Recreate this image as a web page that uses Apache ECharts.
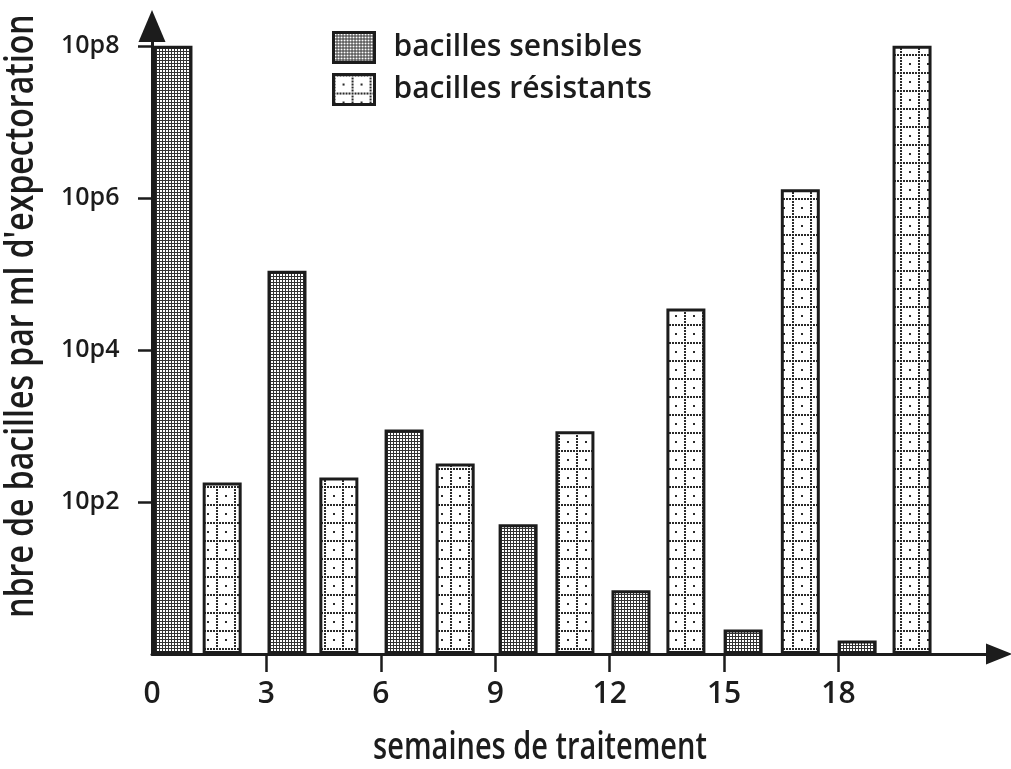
<!DOCTYPE html>
<html>
<head>
<meta charset="utf-8">
<script src="https://cdn.jsdelivr.net/npm/echarts@6/dist/echarts.min.js"></script>
<style>
  html, body { margin: 0; padding: 0; background: #fff; }
  #main { width: 1011px; height: 769px; }
</style>
</head>
<body>
<div id="main"></div>
<script>
"use strict";
// semaines (position des barres sur l'axe)
var sensWeeks = [0.55, 3.54, 6.61, 9.60, 12.56, 15.50, 18.49];
var resWeeks = [1.84, 4.90, 7.95, 11.09, 14.0, 17.0, 19.93];
// nbre de bacilles par ml
var sensCounts = [1e8, 1.1e5, 900, 51, 6.9, 2.1, 1.5];
var resCounts = [180, 210, 320, 850, 3.5e4, 1.3e6, 1e8];
// graduations
var xLabelValues = [0, 3, 6, 9, 12, 15, 18];
var xTickValues = [3, 6, 9, 12, 15, 18];
var yTickValues = [1e2, 1e4, 1e6, 1e8];

var FONT = '"Open Sans", "DejaVu Sans", sans-serif';
var INK = '#1c1c1c';
var WEIGHT = 600;

// motif serré : grille sombre, petits carrés blancs
function densePattern() {
    var c = document.createElement("canvas");
    c.width = 3; c.height = 3;
    var g = c.getContext("2d");
    g.fillStyle = "#333";
    g.fillRect(0, 0, 3, 3);
    g.fillStyle = "#fff";
    g.fillRect(1, 1, 2, 2);
    return c;
}

// motif clair : lignes pointillées + point central
function gridPattern() {
    var c = document.createElement("canvas");
    c.width = 18; c.height = 18;
    var g = c.getContext("2d");
    g.fillStyle = "#fff";
    g.fillRect(0, 0, 18, 18);
    g.fillStyle = "#2a2a2a";
    for (var i = 0; i < 18; i += 3) {
        g.fillRect(i, 0, 2, 2);
        g.fillRect(0, i, 2, 2);
    }
    g.fillRect(9, 9, 2, 2);
    return c;
}

function pairs(xs, ys) {
    return xs.map(function (x, i) { return [x, ys[i]]; });
}

var chart = echarts.init(document.getElementById("main"), null, {renderer: "canvas"});

var option = {
    backgroundColor: "#fff",
    animation: false,
    grid: {left: 152, right: 12, top: 26, bottom: 115, outerBoundsMode: "none"},
    legend: {
        orient: "vertical",
        left: 327,
        top: 26,
        itemWidth: 41,
        itemHeight: 30,
        itemGap: 9,
        icon: "rect",
        itemStyle: {borderWidth: 3, borderColor: INK},
        textStyle: {
            fontSize: 30, fontFamily: FONT, fontWeight: WEIGHT, color: INK,
            lineHeight: 30, padding: [0, 0, 0, 14]
        },
        data: ["bacilles sensibles", "bacilles résistants"]
    },
    xAxis: {
        type: "value",
        min: 0,
        max: 22.21,
        interval: 3,
        splitLine: {show: false},
        axisLine: {
            show: true,
            symbol: ["none", "triangle"],
            symbolSize: [21, 26],
            lineStyle: {color: INK, width: 3}
        },
        axisTick: {show: true, length: 18, customValues: xTickValues, lineStyle: {color: INK, width: 2.5}},
        axisLabel: {
            customValues: xLabelValues,
            fontSize: 30,
            fontFamily: FONT,
            fontWeight: WEIGHT,
            color: INK,
            margin: 25
        }
    },
    yAxis: {
        type: "log",
        logBase: 10,
        min: 1,
        max: Math.pow(10, 8.26),
        splitLine: {show: false},
        axisLine: {
            show: true,
            symbol: ["none", "triangle"],
            symbolSize: [27, 32],
            lineStyle: {color: INK, width: 3}
        },
        axisTick: {show: true, length: 14, customValues: yTickValues, lineStyle: {color: INK, width: 2.5}},
        axisLabel: {
            customValues: yTickValues,
            formatter: function (v) { return "10p" + Math.round(Math.log10(v)); },
            fontSize: 25,
            fontFamily: FONT,
            fontWeight: WEIGHT,
            color: INK,
            align: "left",
            margin: 91
        }
    },
    series: [
        {
            name: "bacilles sensibles",
            type: "bar",
            barWidth: 39,
            barGap: "-100%",
            data: pairs(sensWeeks, sensCounts),
            itemStyle: {color: {image: densePattern(), repeat: "repeat"}, borderColor: INK, borderWidth: 3}
        },
        {
            name: "bacilles résistants",
            type: "bar",
            barWidth: 39,
            barGap: "-100%",
            data: pairs(resWeeks, resCounts),
            itemStyle: {color: {image: gridPattern(), repeat: "repeat"}, borderColor: INK, borderWidth: 3}
        }
    ],
    graphic: [
        {
            type: "text",
            x: 22,
            y: 316,
            rotation: Math.PI / 2,
            scaleY: 1.25,
            style: {
                text: "nbre de bacilles par ml d'expectoration",
                fontSize: 32,
                fontFamily: FONT,
                fontWeight: WEIGHT,
                fill: INK,
                align: "center",
                verticalAlign: "middle"
            }
        },
        {
            type: "text",
            x: 540,
            y: 748,
            scaleY: 1.3,
            style: {
                text: "semaines de traitement",
                fontSize: 29,
                fontFamily: FONT,
                fontWeight: WEIGHT,
                fill: INK,
                align: "center",
                verticalAlign: "middle"
            }
        }
    ]
};

chart.setOption(option);
</script>
</body>
</html>
